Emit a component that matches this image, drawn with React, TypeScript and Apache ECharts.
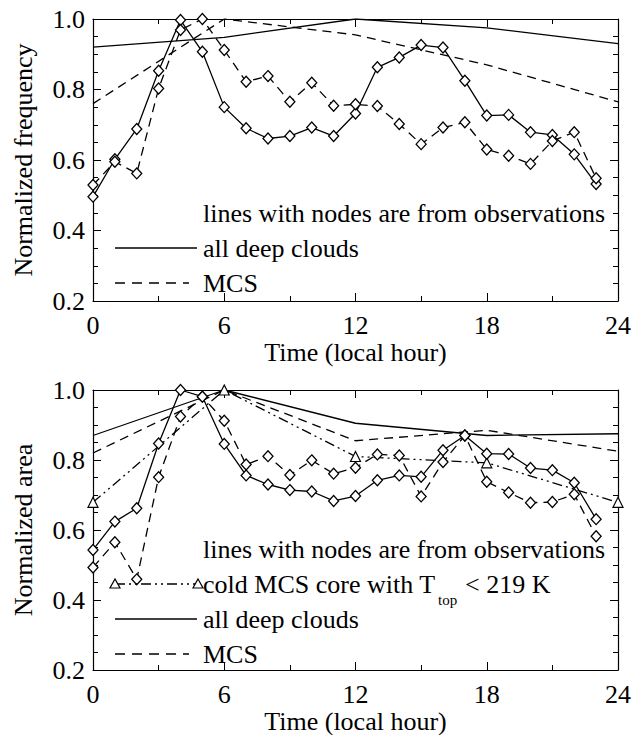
import React, { useEffect, useRef } from "react";
import * as echarts from "echarts";

// ---------- data ----------
const obsHours = [0, 1, 2, 3, 4, 5, 6, 7, 8, 9, 10, 11, 12, 13, 14, 15, 16, 17, 18, 19, 20, 21, 22, 23];
const modelHours = [0, 6, 12, 18, 24];
const xTicks = [0, 6, 12, 18, 24];
const yTicks = [0.2, 0.4, 0.6, 0.8, 1.0];

// top panel: normalized frequency
const freqObsDeep = [0.496, 0.602, 0.688, 0.853, 0.997, 0.907, 0.75, 0.69, 0.661, 0.668, 0.692, 0.668, 0.732, 0.863, 0.891, 0.926, 0.919, 0.825, 0.726, 0.728, 0.679, 0.671, 0.616, 0.532];
const freqObsMCS = [0.529, 0.595, 0.562, 0.803, 0.969, 1.0, 0.912, 0.822, 0.838, 0.765, 0.819, 0.754, 0.758, 0.753, 0.702, 0.645, 0.692, 0.707, 0.63, 0.612, 0.589, 0.654, 0.679, 0.548];
const freqModelDeep = [0.92, 0.948, 1.0, 0.975, 0.93];
const freqModelMCS = [0.76, 1.0, 0.955, 0.87, 0.765];

// bottom panel: normalized area
const areaObsDeep = [0.543, 0.624, 0.662, 0.847, 1.0, 0.981, 0.846, 0.756, 0.73, 0.714, 0.71, 0.683, 0.697, 0.742, 0.756, 0.752, 0.828, 0.87, 0.818, 0.817, 0.777, 0.771, 0.735, 0.631];
const areaObsMCS = [0.493, 0.565, 0.459, 0.751, 0.924, 0.981, 0.912, 0.787, 0.811, 0.757, 0.799, 0.761, 0.778, 0.816, 0.813, 0.696, 0.794, 0.87, 0.738, 0.707, 0.678, 0.68, 0.702, 0.582];
const areaModelDeep = [0.87, 1.0, 0.905, 0.87, 0.875];
const areaModelMCS = [0.82, 1.0, 0.855, 0.885, 0.825];
const areaModelCold = [0.679, 1.0, 0.81, 0.792, 0.679];

const xTitle = "Time (local hour)";
const yTitleTop = "Normalized frequency";
const yTitleBottom = "Normalized area";

// ---------- styling ----------
const FONT = "Liberation Serif";
const FS = 26;
const BLACK = "#000";
const DASH = [9, 6];
const DASHDOT = [10, 4, 2, 4, 2, 4];

const pairs = (xs: number[], ys: number[]) => xs.map((x, i) => [x, ys[i]]);

function xAxes(gridIndex: number) {
  const common = {
    gridIndex,
    type: "value" as const,
    min: xTicks[0],
    max: xTicks[xTicks.length - 1],
    interval: xTicks[1] - xTicks[0],
    splitLine: { show: false },
    axisLine: { show: true, onZero: false, lineStyle: { color: BLACK, width: 1.2 } },
    axisTick: { show: true, inside: true, length: 8, lineStyle: { color: BLACK, width: 1 } },
    minorTick: { show: true, splitNumber: 2, length: 5, lineStyle: { color: BLACK, width: 1 } },
  };
  return [
    {
      ...common,
      position: "bottom",
      name: xTitle,
      nameLocation: "middle",
      nameGap: 38,
      nameTextStyle: { fontFamily: FONT, fontSize: FS, color: BLACK },
      axisLabel: { show: true, margin: 11, fontFamily: FONT, fontSize: FS, color: BLACK },
    },
    { ...common, position: "top", axisLabel: { show: false } },
  ];
}

function yAxes(gridIndex: number, title: string) {
  const common = {
    gridIndex,
    type: "value" as const,
    min: yTicks[0],
    max: yTicks[yTicks.length - 1],
    interval: 0.2,
    splitLine: { show: false },
    axisLine: { show: true, onZero: false, lineStyle: { color: BLACK, width: 1.2 } },
    axisTick: { show: true, inside: true, length: 8, lineStyle: { color: BLACK, width: 1 } },
    minorTick: { show: true, splitNumber: 4, length: 5, lineStyle: { color: BLACK, width: 1 } },
  };
  return [
    {
      ...common,
      position: "left",
      name: title,
      nameLocation: "middle",
      nameGap: 57,
      nameTextStyle: { fontFamily: FONT, fontSize: FS, color: BLACK },
      axisLabel: {
        show: true,
        margin: 8,
        fontFamily: FONT,
        fontSize: FS,
        color: BLACK,
        formatter: (v: number) => v.toFixed(1),
      },
    },
    { ...common, position: "right", axisLabel: { show: false } },
  ];
}

function obsSeries(xi: number, yi: number, ys: number[], dashed: boolean) {
  return {
    type: "line",
    xAxisIndex: xi,
    yAxisIndex: yi,
    data: pairs(obsHours, ys),
    symbol: "diamond",
    symbolSize: [10, 11],
    showAllSymbol: true,
    itemStyle: { color: "#fff", borderColor: BLACK, borderWidth: 1.3 },
    lineStyle: { color: BLACK, width: 1.3, type: dashed ? DASH : "solid" },
    z: 3,
  };
}

function modelSeries(xi: number, yi: number, ys: number[], type: any, symbol = "none") {
  return {
    type: "line",
    xAxisIndex: xi,
    yAxisIndex: yi,
    data: pairs(modelHours, ys),
    symbol,
    symbolSize: 10,
    showAllSymbol: true,
    itemStyle: { color: "#fff", borderColor: BLACK, borderWidth: 1.2 },
    lineStyle: { color: BLACK, width: 1.3, type },
    z: 2,
  };
}

function legendText(x: number, y: number, text: string, fs = FS) {
  return {
    type: "text",
    x,
    y,
    style: { text, fontFamily: FONT, fontSize: fs, fill: BLACK, verticalAlign: "middle", align: "left" },
    z: 10,
  };
}

function legendLine(x1: number, x2: number, y: number, dash: any) {
  return {
    type: "line",
    shape: { x1, y1: y, x2, y2: y },
    style: { stroke: BLACK, lineWidth: 1.3, lineDash: dash },
    z: 10,
  };
}

function tri(x: number, y: number) {
  return {
    type: "polygon",
    shape: { points: [[x - 5, y + 4], [x + 5, y + 4], [x, y - 5]] },
    style: { fill: "#fff", stroke: BLACK, lineWidth: 1.2 },
    z: 11,
  };
}

export default function App() {
  const ref = useRef<HTMLDivElement>(null);
  useEffect(() => {
    document.body.style.margin = "0";
    if (!ref.current) return;
    const chart = echarts.init(ref.current, null, { renderer: "svg" });
    const option: any = {
      animation: false,
      backgroundColor: "#fff",
      textStyle: { fontFamily: FONT },
      grid: [
        { left: 93, top: 19, width: 525, height: 282 },
        { left: 93, top: 390, width: 525, height: 282 },
      ],
      xAxis: [...xAxes(0), ...xAxes(1)],
      yAxis: [...yAxes(0, yTitleTop), ...yAxes(1, yTitleBottom)],
      series: [
        modelSeries(0, 0, freqModelDeep, "solid"),
        modelSeries(0, 0, freqModelMCS, DASH),
        obsSeries(0, 0, freqObsDeep, false),
        obsSeries(0, 0, freqObsMCS, true),
        modelSeries(2, 2, areaModelDeep, "solid"),
        modelSeries(2, 2, areaModelMCS, DASH),
        modelSeries(2, 2, areaModelCold, DASHDOT, "triangle"),
        obsSeries(2, 2, areaObsDeep, false),
        obsSeries(2, 2, areaObsMCS, true),
      ],
      graphic: [
        // top legend
        legendText(203, 213, "lines with nodes are from observations"),
        legendLine(115, 197, 248, null),
        legendText(203, 248, "all deep clouds"),
        legendLine(115, 189, 283, [10, 7]),
        legendText(203, 283, "MCS"),
        // bottom legend
        legendText(203, 549, "lines with nodes are from observations"),
        legendLine(115, 198, 584, DASHDOT),
        tri(115, 584),
        tri(198, 584),
        legendText(203, 584, "cold MCS core with T"),
        legendText(438, 600, "top", 15),
        legendText(465, 584, "< 219 K"),
        legendLine(115, 197, 619, null),
        legendText(203, 619, "all deep clouds"),
        legendLine(115, 189, 654, [10, 7]),
        legendText(203, 654, "MCS"),
      ],
    };
    chart.setOption(option);
    return () => chart.dispose();
  }, []);
  return <div ref={ref} style={{ width: 634, height: 735 }} />;
}
